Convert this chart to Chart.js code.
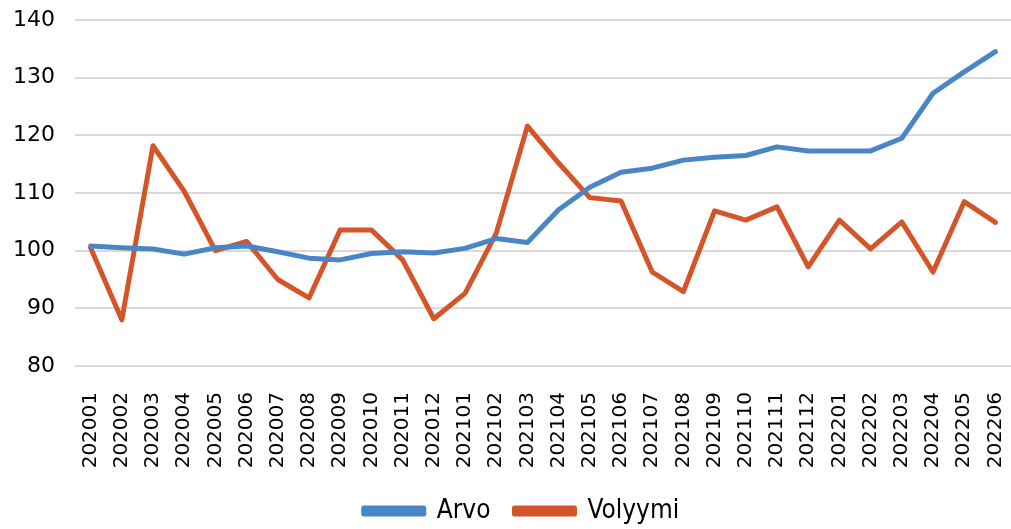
<!DOCTYPE html>
<html>
<head>
<meta charset="utf-8">
<script src="https://cdn.jsdelivr.net/npm/chart.js@4/dist/chart.umd.min.js"></script>
<style>
  html, body { margin: 0; padding: 0; background: #fff; }
  #wrap { width: 1011px; height: 529px; }
</style>
</head>
<body>
<div id="wrap"><canvas id="lineChart"></canvas></div>
<script>
const months = ['202001', '202002', '202003', '202004', '202005', '202006', '202007', '202008', '202009', '202010', '202011', '202012',
  '202101', '202102', '202103', '202104', '202105', '202106', '202107', '202108', '202109', '202110', '202111', '202112',
  '202201', '202202', '202203', '202204', '202205', '202206'];

const arvo = [100.8, 100.5, 100.3, 99.4, 100.5, 100.8, 99.8, 98.7, 98.4, 99.5, 99.8, 99.6,
  100.4, 102.1, 101.4, 107.1, 111.0, 113.6, 114.3, 115.7, 116.2, 116.5, 118.0, 117.3,
  117.3, 117.3, 119.5, 127.3, 131.0, 134.5];

const volyymi = [100.5, 88.0, 118.2, 110.3, 100.0, 101.6, 95.0, 91.8, 103.6, 103.6, 98.4, 88.2,
  92.6, 103.0, 121.6, 115.2, 109.2, 108.6, 96.3, 92.9, 106.9, 105.3, 107.6, 97.2,
  105.3, 100.3, 105.0, 96.3, 108.5, 104.9];

const yTicks = [80, 90, 100, 110, 120, 130, 140];

const CHART = document.getElementById("lineChart");

// keep the legend short but with wide gaps between items, and nudge it into place
const legendFix = {
  id: 'legendFix',
  beforeLayout(chart) {
    const lg = chart.legend;
    if (lg && !lg._fixed) {
      const fit = lg.fit.bind(lg);
      lg.fit = function () { fit(); this.height = 44; };
      lg._fixed = true;
    }
  },
  afterLayout(chart) {
    if (chart.legend) {
      chart.legend.left += 32;
      chart.legend.top -= 11;
    }
  }
};

let lineChart = new Chart(CHART, {
  type: 'line',
  data: {
    labels: months,
    datasets: [
      {label: "Arvo", data: arvo, borderColor: "#4a86c6", backgroundColor: "#4a86c6",
       borderWidth: 5, pointRadius: 0, tension: 0, borderCapStyle: 'round', borderJoinStyle: 'round'},
      {label: "Volyymi", data: volyymi, borderColor: "#d4552a", backgroundColor: "#d4552a",
       borderWidth: 5, pointRadius: 0, tension: 0, borderCapStyle: 'round', borderJoinStyle: 'round'}
    ]
  },
  plugins: [legendFix],
  options: {
    responsive: true,
    maintainAspectRatio: false,
    animation: false,
    layout: {padding: {top: 20, right: 0, left: 0, bottom: 0}},
    plugins: {
      legend: {
        position: 'bottom',
        labels: {
          color: '#000',
          font: {family: 'DejaVu Sans Condensed, DejaVu Sans', size: 26},
          boxWidth: 60, boxHeight: 6, padding: 24
        }
      },
      tooltip: {enabled: false}
    },
    scales: {
      x: {
        offset: true,
        grid: {display: false},
        border: {display: false},
        afterFit: (scale) => { scale.height = 119; scale.paddingLeft = 0; scale.paddingRight = 0; },
        ticks: {
          color: '#000', autoSkip: false, minRotation: 90, maxRotation: 90,
          font: {family: 'DejaVu Sans', size: 20}, padding: 18
        }
      },
      y: {
        min: 80, max: 140,
        afterBuildTicks: (scale) => { scale.ticks = yTicks.map(v => ({value: v})); },
        afterFit: (scale) => { scale.width = 75; scale.paddingTop = 0; scale.paddingBottom = 0; },
        grid: {color: '#d9d9d9', lineWidth: 2, drawTicks: false},
        border: {display: false},
        ticks: {color: '#000', font: {family: 'DejaVu Sans', size: 22}, padding: 20}
      }
    }
  }
});
</script>
</body>
</html>
